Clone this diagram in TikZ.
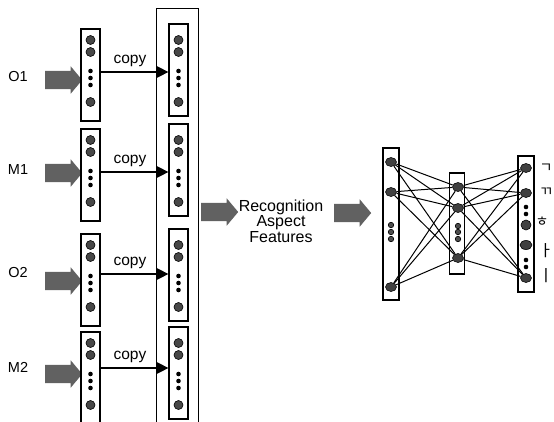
\documentclass[tikz,border=0pt]{standalone}
\usepackage{fontspec}
\setmainfont{Liberation Sans}
\newfontfamily\krfont{Noto Sans CJK KR}
\usetikzlibrary{arrows.meta,shapes.arrows,shapes.geometric}
\begin{document}
\begin{tikzpicture}[x=1pt,y=-1pt,
  box/.style={draw, line width=1.2pt, minimum width=19pt, minimum height=92pt, inner sep=0pt},
  bigdot/.style={circle, draw, line width=0.6pt, fill=black!72, minimum size=9pt, inner sep=0pt},
  smalldot/.style={circle, fill=black, minimum size=4.6pt, inner sep=0pt},
  blockarrow/.style={single arrow, fill=black!62, minimum height=37pt, minimum width=27pt,
    inner xsep=0pt, inner ysep=9pt, text height=0pt, text depth=0pt, text width=0pt,
    single arrow head extend=4.5pt, single arrow tip angle=100, anchor=tail},
  copyline/.style={line width=1.1pt, -{Triangle[length=12pt,width=12pt]}},
  lbl/.style={font=\fontsize{14.5}{14.5}\selectfont},
  copylbl/.style={font=\fontsize{15.5}{15.5}\selectfont},
  netbox/.style={draw, line width=1.2pt, inner sep=0pt},
  netnode/.style={ellipse, draw, line width=0.6pt, fill=black!75, minimum width=11pt, minimum height=9pt, inner sep=0pt},
  netdot/.style={circle, draw, line width=0.6pt, fill=black!70, minimum size=5.5pt, inner sep=0pt},
  edge/.style={line width=1pt},
  krl/.style={font=\krfont\fontsize{14}{14}\selectfont},
  krt/.style={font=\krfont\fontsize{16}{16}\selectfont}
]
\useasboundingbox (0,0) rectangle (554,421);
\clip (0,0) rectangle (554,421);

% big container box
\node[draw, line width=1.2pt, minimum width=42pt, minimum height=430pt, inner sep=0pt, anchor=north west] (big) at (156,8) {};

\foreach \lab/\yb/\ya/\yr/\yl [count=\i] in {O1/72/72/80/77, M1/172/172/173/170, O2/277/274/281/273, M2/375/368/374/367}{
  \node[lbl] (t\i) at (18,\yl) {\lab};
  \node[blockarrow] (g\i) at (45,\yr) {};
  \node[box] (s\i) at (90.5,\yb+3) {};
  \node[box] (c\i) at (178.5,\yb-2) {};
  \foreach \bx/\nm in {90.5/s,178.5/c}{
    \node[bigdot] (\nm\i-1) at (\bx,\yb-32) {};
    \node[bigdot] (\nm\i-2) at (\bx,\yb-20) {};
    \node[smalldot] (\nm\i-3) at (\bx,\yb-1) {};
    \node[smalldot] (\nm\i-4) at (\bx,\yb+6) {};
    \node[smalldot] (\nm\i-5) at (\bx,\yb+13) {};
    \node[bigdot] (\nm\i-6) at (\bx,\yb+30) {};
  }
  \coordinate (a\i) at (100,\ya);
  \draw[copyline] (s\i.east |- a\i) -- (c\i.west |- a\i);
  \node[copylbl] (cl\i) at (130,\ya-11) {copy};
}

% middle arrow and text
\node[blockarrow] (mid1) at (201,212) {};
\node[align=center, font=\fontsize{16}{14}\selectfont] (rec) at (281,221) {Recognition\\Aspect\\Features};
\node[blockarrow] (mid2) at (334,213) {};

% network boxes
\node[netbox, minimum width=16pt, minimum height=152pt] (LB) at (391,224) {};
\node[netbox, minimum width=15pt, minimum height=101pt] (MB) at (457,223.5) {};
\node[netbox, minimum width=16pt, minimum height=136pt] (RB) at (526,224) {};

% left layer
\node[netnode] (L1) at (391,162) {};
\node[netnode] (L2) at (391,192) {};
\node[netnode] (L3) at (391,287) {};
\node[netdot] (Ld1) at (391,225) {};
\node[netdot] (Ld2) at (391,232) {};
\node[netdot] (Ld3) at (391,239) {};
% middle layer
\node[netnode] (M1) at (458,187) {};
\node[netnode] (M2) at (458,208) {};
\node[netnode] (M3) at (458,258) {};
\node[netdot] (Md1) at (458,226) {};
\node[netdot] (Md2) at (458,232) {};
\node[netdot] (Md3) at (458,239) {};
% right layer
\node[netnode] (R1) at (526,168) {};
\node[netnode] (R2) at (526,193) {};
\node[smalldot] (Rd1) at (526,207) {};
\node[smalldot] (Rd2) at (526,214) {};
\node[netnode, minimum width=10pt, minimum height=10pt] (R3) at (526,225) {};
\node[netnode, minimum width=12pt, minimum height=9pt] (R4) at (526,245) {};
\node[smalldot] (Rd3) at (526,260) {};
\node[smalldot] (Rd4) at (526,267) {};
\node[netnode] (R5) at (526,278) {};

\foreach \a in {L1,L2,L3}{
  \foreach \b in {M1,M2,M3}{
    \draw[edge] (\a) -- (\b);
  }
}
\foreach \a in {M1,M2,M3}{
  \foreach \b in {R1,R2,R5}{
    \draw[edge] (\a) -- (\b);
  }
}

% output labels
\node[krl] (k1) at (546,168) {ㄱ};
\node[krl] (k2) at (546,192) {ㄲ};
\node[krl] (k3) at (542,222) {ㅎ};
\node[krt] (k4) at (546,251) {ㅏ};
\node[krt] (k5) at (546,276) {ㅣ};
\end{tikzpicture}
\end{document}
